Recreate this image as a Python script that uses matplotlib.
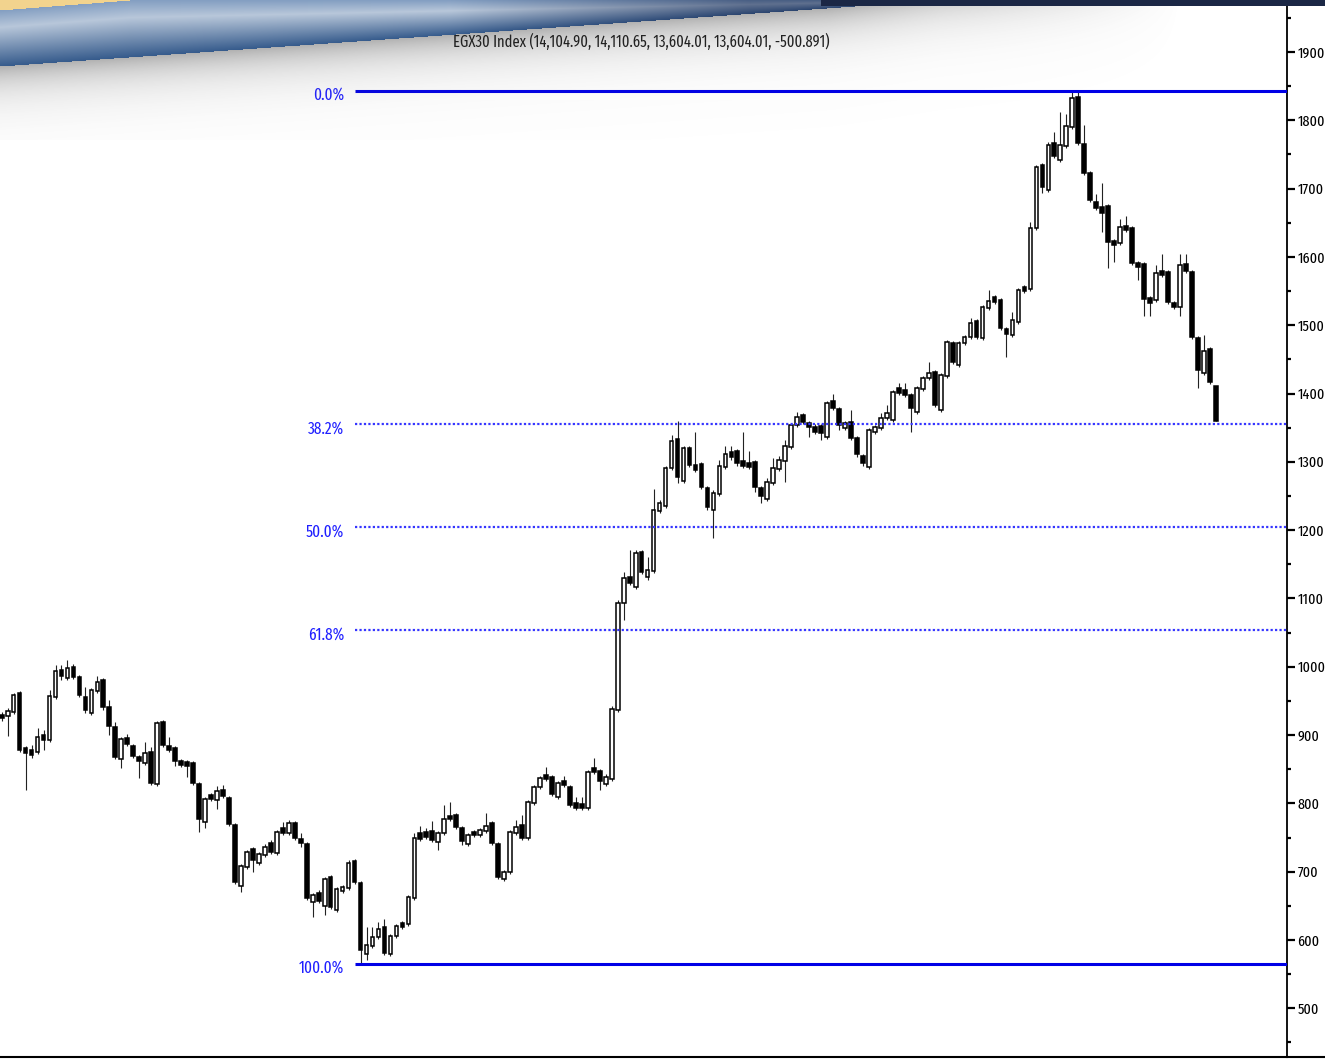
import os
import numpy as np
import matplotlib
matplotlib.use("Agg")
import matplotlib.pyplot as plt
from matplotlib import font_manager
from matplotlib.ticker import FuncFormatter

# Weekly EGX30 candles (index points)
opens = [9290, 9280, 9340, 9610, 8810, 8780, 8750, 9000, 8930, 9560,
         9950, 9840, 10000, 9850, 9560, 9320, 9640, 9810, 9410, 9120,
         8650, 8960, 8840, 8680, 8590, 8750, 8280, 9190, 8840, 8810,
         8620, 8610, 8590, 8280, 7730, 8120, 8050, 8200, 8080, 7680,
         6790, 7070, 7330, 7130, 7240, 7420, 7270, 7640, 7570, 7710,
         7480, 7400, 6560, 6690, 6500, 6920, 6440, 6720, 6760, 7160,
         6830, 5790, 5910, 6040, 6190, 5800, 6060, 6250, 6230, 6610,
         7570, 7580, 7600, 7430, 7570, 7820, 7830, 7640, 7400, 7580,
         7540, 7600, 7710, 7400, 6890, 7000, 7570, 7680, 7490, 8000,
         8240, 8420, 8390, 8090, 8330, 8240, 8000, 7990, 7930, 8520,
         8470, 8280, 8360, 9370, 10930, 11310, 11170, 11680, 11310, 11400,
         12280, 12350, 12910, 13330, 12720, 13200, 12950, 12970, 12620, 12300,
         12530, 12920, 13140, 13160, 13010, 12980, 13000, 12620, 12460, 12690,
         12900, 13010, 13220, 13540, 13690, 13570, 13510, 13520, 13360, 13890,
         13770, 13500, 13580, 13350, 13090, 12920, 13440, 13500, 13640, 13610,
         14080, 14050, 13980, 13730, 14070, 14230, 14310, 13760, 14260, 14740,
         14420, 14740, 14830, 15060, 14810, 15250, 15410, 15370, 14940, 14860,
         15050, 15560, 15530, 16420, 17350, 16980, 17670, 17420, 17620, 17900,
         18340, 17650, 17230, 16800, 16730, 16750, 16230, 16200, 16450, 16420,
         15910, 15900, 15400, 15370, 15790, 15780, 15330, 15270, 15900, 15780,
         14810, 14300, 14650, 14104.90]

highs = [9340, 9400, 9620, 9640, 8840, 8850, 9100, 9070, 9660, 10030,
         10030, 10100, 10040, 9880, 9700, 9690, 9860, 9840, 9510, 9190,
         8970, 9010, 8870, 8710, 8900, 8830, 9210, 9220, 8970, 8840,
         8650, 8640, 8620, 8310, 8090, 8150, 8250, 8270, 8110, 7710,
         7110, 7320, 7360, 7290, 7400, 7460, 7610, 7730, 7760, 7740,
         7570, 7430, 6690, 6730, 6920, 6950, 6780, 6800, 7170, 7190,
         6860, 6190, 6190, 6260, 6310, 6090, 6230, 6280, 6660, 7570,
         7670, 7640, 7740, 7600, 7980, 8020, 7860, 7670, 7570, 7610,
         7640, 7860, 7740, 7430, 7020, 7610, 7760, 7830, 8050, 8270,
         8400, 8530, 8420, 8330, 8400, 8270, 8090, 8090, 8490, 8660,
         8500, 8430, 9430, 10980, 11390, 11710, 11710, 11710, 11610, 12600,
         12440, 12940, 13390, 13600, 13230, 13230, 13440, 13000, 12650, 12590,
         13030, 13230, 13230, 13190, 13440, 13160, 13030, 12650, 12760, 13060,
         13090, 13320, 13570, 13730, 13720, 13600, 13550, 13550, 13890, 13990,
         13800, 13600, 13760, 13380, 13110, 13500, 13540, 13720, 13830, 14050,
         14150, 14150, 14010, 14110, 14260, 14460, 14340, 14300, 14780, 14770,
         14770, 14860, 15110, 15090, 15300, 15520, 15440, 15400, 14970, 15190,
         15550, 15590, 16510, 17350, 17380, 17680, 17830, 18120, 18090, 18430,
         18410, 17930, 17260, 16920, 17080, 16770, 16260, 16560, 16600, 16450,
         15940, 15930, 15430, 15880, 16040, 15810, 15350, 16040, 16040, 15810,
         14840, 14860, 14680, 14110.65]

lows = [9200, 8980, 9310, 8750, 8200, 8660, 8720, 8780, 8900, 9530,
        9810, 9810, 9820, 9560, 9320, 9290, 9620, 9370, 9000, 8650,
        8520, 8840, 8660, 8370, 8560, 8270, 8250, 8820, 8750, 8550,
        8530, 8390, 8270, 7580, 7640, 8030, 7920, 8080, 7670, 6820,
        6700, 7040, 7000, 7100, 7210, 7260, 7240, 7540, 7540, 7460,
        7360, 6580, 6340, 6540, 6370, 6450, 6410, 6690, 6730, 6820,
        5650, 5710, 5880, 6010, 5780, 5770, 6030, 6160, 6200, 6580,
        7450, 7480, 7430, 7320, 7540, 7740, 7620, 7390, 7380, 7510,
        7510, 7570, 7390, 6890, 6860, 6970, 7540, 7460, 7460, 7980,
        8210, 8330, 8110, 8060, 8240, 7950, 7900, 7900, 7900, 8430,
        8200, 8250, 8330, 9340, 10680, 11200, 11140, 11360, 11270, 11370,
        12250, 12320, 12880, 12690, 12690, 12920, 12850, 12600, 12300, 11890,
        12500, 12900, 13030, 12940, 12910, 12900, 12560, 12400, 12430, 12660,
        12870, 12710, 13190, 13510, 13550, 13360, 13410, 13320, 13330, 13760,
        13470, 13470, 13320, 13070, 12940, 12900, 13410, 13470, 13610, 13580,
        13980, 13950, 13440, 13700, 14040, 14200, 13800, 13730, 14230, 14430,
        14390, 14710, 14800, 14800, 14780, 15220, 15310, 14930, 14530, 14830,
        15020, 15470, 15500, 16390, 16940, 16950, 17450, 17390, 17590, 17870,
        17640, 17200, 16800, 16690, 16360, 15840, 15930, 16170, 16370, 15880,
        15660, 15130, 15130, 15340, 15710, 15310, 15240, 15130, 15760, 14800,
        14080, 14270, 14140, 13604.01]

closes = [9250, 9350, 9590, 8780, 8740, 8710, 8970, 8930, 9570, 9940,
          9860, 9980, 9850, 9590, 9370, 9660, 9780, 9410, 9130, 8680,
          8940, 8870, 8690, 8620, 8740, 8300, 9180, 8850, 8780, 8620,
          8560, 8550, 8300, 7770, 8060, 8060, 8180, 8110, 7700, 6850,
          7080, 7290, 7170, 7260, 7360, 7290, 7580, 7570, 7710, 7490,
          7420, 6610, 6660, 6570, 6890, 6480, 6750, 6780, 7130, 6850,
          5850, 5930, 6040, 6160, 5810, 6060, 6200, 6190, 6630, 7490,
          7480, 7510, 7460, 7570, 7770, 7770, 7650, 7450, 7540, 7540,
          7610, 7670, 7420, 6920, 7000, 7580, 7650, 7490, 8020, 8240,
          8370, 8360, 8140, 8300, 8270, 7980, 7930, 7930, 8460, 8460,
          8330, 8390, 9380, 10930, 11300, 11230, 11670, 11390, 11420, 12300,
          12400, 12910, 13300, 12780, 13200, 12950, 12880, 12630, 12340, 12540,
          12940, 13110, 13070, 12980, 12940, 12920, 12630, 12500, 12710, 12910,
          13030, 13230, 13540, 13660, 13580, 13510, 13440, 13420, 13860, 13790,
          13540, 13570, 13350, 13110, 12980, 13470, 13510, 13640, 13720, 14020,
          14010, 13980, 13790, 14080, 14230, 14300, 13830, 14270, 14750, 14460,
          14740, 14830, 15030, 14830, 15270, 15350, 15340, 14960, 14870, 15080,
          15520, 15500, 16420, 17320, 17020, 17640, 17480, 17640, 17920, 18330,
          17670, 17230, 16830, 16720, 16640, 16220, 16170, 16440, 16390, 15910,
          15850, 15380, 15330, 15760, 15740, 15340, 15270, 15880, 15790, 14830,
          14340, 14620, 14170, 13604.01]

fib_ratios = [0.0, 0.382, 0.5, 0.618, 1.0]
fib_labels = ["0.0%", "38.2%", "50.0%", "61.8%", "100.0%"]
y_ticks = list(range(5000, 20000, 1000))
title = "EGX30 Index (14,104.90, 14,110.65, 13,604.01, 13,604.01, -500.891)"


# the reference uses a very narrow face: take the narrowest regular one installed
def narrow_file():
    skip = ["bold", "italic", "oblique", "light", "thin", "black", "medium",
            "semibold", "mono", "serif", "cjk", "heavy"]
    best, best_score = None, 99
    for f in font_manager.fontManager.ttflist:
        b = os.path.basename(f.fname).lower()
        if any(k in b for k in skip):
            continue
        if "extracondensed" in b or "extra-condensed" in b:
            score = 0
        elif "narrow" in b:
            score = 1
        elif "condensed" in b and "semi" not in b:
            score = 2
        else:
            continue
        if score < best_score:
            best, best_score = f.fname, score
    return best


FONT_FILE = narrow_file()


def nfont(size):
    if FONT_FILE:
        return font_manager.FontProperties(fname=FONT_FILE, size=size)
    return font_manager.FontProperties(family="DejaVu Sans", size=size)


def fit_width(txt, target_px, renderer):
    w = txt.get_window_extent(renderer).width
    if w > 0:
        txt.set_fontsize(txt.get_fontsize() * target_px / w)


o = np.array(opens, float)
h = np.array(highs, float)
l = np.array(lows, float)
c = np.array(closes, float)
x = np.arange(len(o))

fig = plt.figure(figsize=(13.25, 10.6), dpi=100)
ax = fig.add_axes([0, 3 / 1060, 1287 / 1325, 1057 / 1060])

# wicks then bodies
ax.vlines(x, l, h, color="#222222", linewidth=0.8, zorder=2)
up = c >= o
bottoms = np.minimum(o, c)
heights = np.maximum(np.abs(c - o), 25)
ax.bar(x[up], heights[up], bottom=bottoms[up], width=0.62,
       facecolor="white", edgecolor="black", linewidth=1.1, zorder=3)
ax.bar(x[~up], heights[~up], bottom=bottoms[~up], width=0.62,
       facecolor="black", edgecolor="black", linewidth=1.1, zorder=3)

# Fibonacci retracement from the low to the high
hi, lo = h.max(), l.min()
x_start = int(np.argmin(l)) - 0.9
x_end = 214.9
fib_texts = []
for r, lab in zip(fib_ratios, fib_labels):
    lvl = hi - r * (hi - lo)
    if r in (0.0, 1.0):
        ax.plot([x_start, x_end], [lvl, lvl], color="#0000e6", lw=2.2, zorder=4,
                solid_capstyle="butt")
    else:
        ax.plot([x_start, x_end], [lvl, lvl], color="#3535ff", lw=1.6,
                linestyle=(0, (1, 1)), zorder=4)
    t = ax.annotate(lab, (x_start, lvl), xytext=(-8, -3), textcoords="offset points",
                    ha="right", va="center", color="#2020ff", fontproperties=nfont(14))
    fib_texts.append(t)

ax.set_xlim(-0.28, x_end)
ax.set_ylim(4287, 19761)

for s in ("left", "top"):
    ax.spines[s].set_visible(False)
ax.spines["right"].set_linewidth(1.3)
ax.spines["bottom"].set_linewidth(1.5)
ax.set_xticks([])
ax.yaxis.tick_right()
ax.set_yticks(y_ticks)
ax.set_yticks(np.arange(4500, 20000, 1000), minor=True)
# the right edge of the picture cuts the labels to their first four digits
ax.yaxis.set_major_formatter(FuncFormatter(lambda v, p: f"{int(v) // 10}"))
ax.tick_params(axis="y", which="major", direction="out", length=6, width=1.6, pad=1.5)
ax.tick_params(axis="y", which="minor", direction="out", length=3, width=1.6)

# header banner overlay (pixel coordinates)
ov = fig.add_axes([0, 0, 1, 1], zorder=5)
ov.patch.set_alpha(0)
ov.axis("off")

H, W = 140, 1325
yy, xx = np.mgrid[0:H, 0:W].astype(float)
bot = np.clip(66 * (1 - xx / 940), 0, None)
top = np.clip(10 * (1 - xx / 130), 0, None)
img = np.ones((H, W, 4))
img[..., 3] = 0

# shadow under the band
d = yy - bot
fade = np.clip((1180 - xx) / 350, 0, 1)
sh = np.where(d >= 0, 0.55 * np.exp(-d / 24) * fade, 0)
img[..., :3] = 0.45
img[..., 3] = sh

# blue glossy band
inside = (yy >= top) & (yy < bot)
tb = np.clip((yy - top) / np.maximum(bot - top, 1e-6), 0, 1)
c0 = np.array([0x84, 0x9f, 0xc2]) / 255
c1 = np.array([0xb8, 0xc7, 0xda]) / 255
c2 = np.array([0x36, 0x5b, 0x8c]) / 255
tt = tb[..., None]
band = np.where(tt < 0.3, c0 + (c1 - c0) * (tt / 0.3), c1 + (c2 - c1) * ((tt - 0.3) / 0.7))
dark = np.array([0x24, 0x36, 0x5c]) / 255
mix = np.clip((xx - 450) / 500, 0, 0.6)[..., None]
band = band * (1 - mix) + dark * mix
img[inside, :3] = band[inside]
img[inside, 3] = 1

# yellow corner
yel = yy < top
img[yel, :3] = np.array([0xf2, 0xd3, 0x8e]) / 255
img[yel, 3] = 1

# navy strip on top right
navy = (xx > 820) & (yy < 6)
img[navy, :3] = np.array([0x1b, 0x27, 0x45]) / 255
img[navy, 3] = 1

ov.imshow(img, extent=(0, W, H, 0), aspect="auto", interpolation="bilinear")
ov.plot([1287, 1325], [1057, 1057], color="black", lw=1.5)
ov.set_xlim(0, 1325)
ov.set_ylim(1060, 0)
title_txt = ov.text(641, 42, title, ha="center", va="center", color="#222222",
                    fontproperties=nfont(13))

# size the narrow texts to the widths they have in the reference
fig.canvas.draw()
rend = fig.canvas.get_renderer()
fit_width(title_txt, 378, rend)
fit_width(fib_texts[1], 36, rend)
fib_size = fib_texts[1].get_fontsize()
for t in fib_texts:
    t.set_fontsize(fib_size)
probe = ax.text(0, 0, "1900", fontproperties=nfont(14))
fit_width(probe, 27, rend)
tick_size = probe.get_fontsize()
probe.remove()
for t in ax.get_yticklabels():
    t.set_fontproperties(nfont(tick_size))

fig.savefig("out.png", dpi=100)
